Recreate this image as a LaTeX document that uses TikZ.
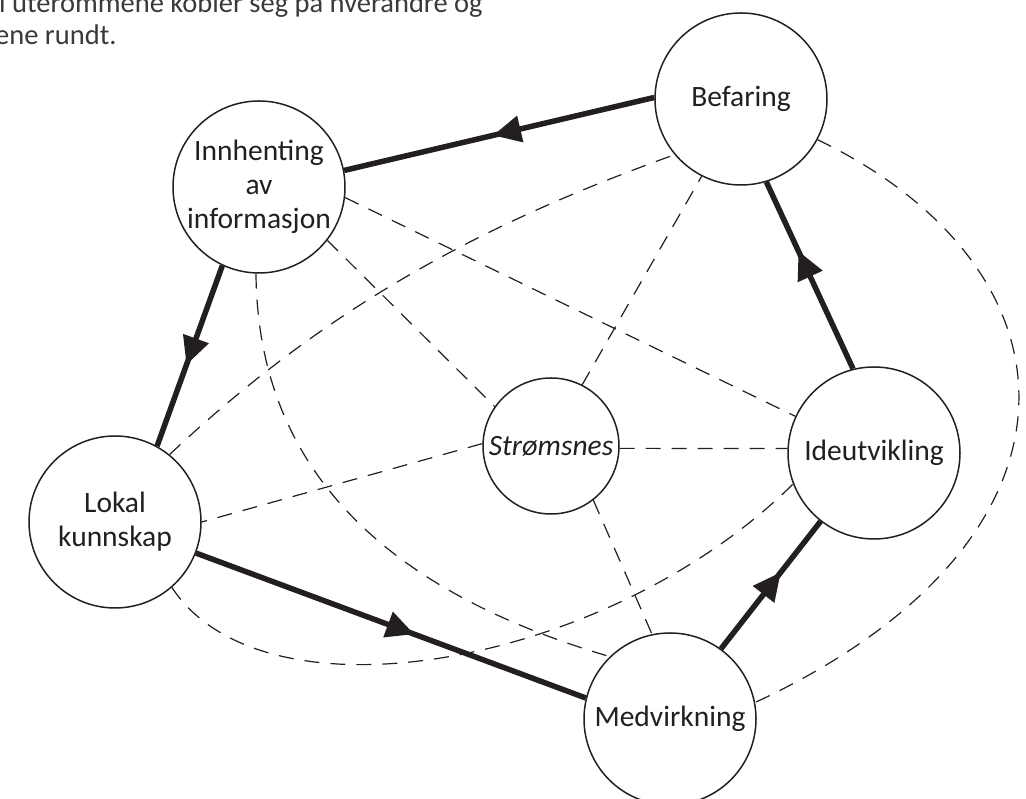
\documentclass[tikz,border=0pt]{standalone}
\usepackage{fontspec}
\setmainfont{Carlito}
\usetikzlibrary{arrows.meta,decorations.markings}
\definecolor{ink}{HTML}{231F20}
\definecolor{captiongray}{HTML}{3A3A3A}
\begin{document}
\begin{tikzpicture}[x=1pt,y=1pt,
  hub/.style={circle,draw=ink,line width=1.5pt,minimum size=172pt,inner sep=0pt,align=center,
    font=\fontsize{29.5}{34}\selectfont,text=ink,fill=white},
  flow/.style={draw=ink,line width=5.5pt,postaction={decorate},
    decoration={markings,mark=at position #1 with {\arrow{Triangle[length=28pt,width=26pt]}}}},
  link/.style={draw=ink,line width=1.2pt,dash pattern=on 15pt off 11pt},
  caption/.style={anchor=base west,font=\fontsize{28.5}{32}\selectfont,text=captiongray,inner sep=0pt}]
\fill[white] (0,0) rectangle (1026,799);
\useasboundingbox (0,0) rectangle (1026,799);

\node[caption] (cap1) at (-1,786) {i uterommene kobler seg på hverandre og};
\node[caption] (cap2) at (-5,754) {ene rundt.};

\node[hub] (B) at (741,700) {Befaring};
\node[hub] (I) at (259,612) {Innhenting\\av\\informasjon};
\node[hub] (L) at (115,277) {Lokal\\kunnskap};
\node[hub] (M) at (670,80) {Medvirkning};
\node[hub] (D) at (874,346) {Ideutvikling};
\node[hub,minimum size=136pt] (S) at (551,353) {\itshape Strømsnes};

% dashed links
\draw[link] (I.353) -- (D.155);
\draw[link] (I.322) -- (S.145);
\draw[link] (I.268) .. controls (258,319) and (400,204) .. (M.134);
\draw[link] (L.311) .. controls (265,70) and (610,134) .. (D.201);
\draw[link] (L.51) .. controls (320,486) and (473,572) .. (B.220);
\draw[link] (B.332) .. controls (1088,529) and (1104,259) .. (M.11);
\draw[link] (S.63) -- (B.243);
\draw[link] (S.308) -- (M.102);
\draw[link] (S.-2) -- (D.177);
\draw[link] (S.178) -- (L.0);

% main cycle
\draw[flow=0.52] (B.179) -- (I.11);
\draw[flow=0.55] (I.245) -- (L.61);
\draw[flow=0.56] (L.339) -- (M.166);
\draw[flow=0.6] (M.54) -- (D.232);
\draw[flow=0.63] (D.104) -- (B.287);
\end{tikzpicture}
\end{document}
